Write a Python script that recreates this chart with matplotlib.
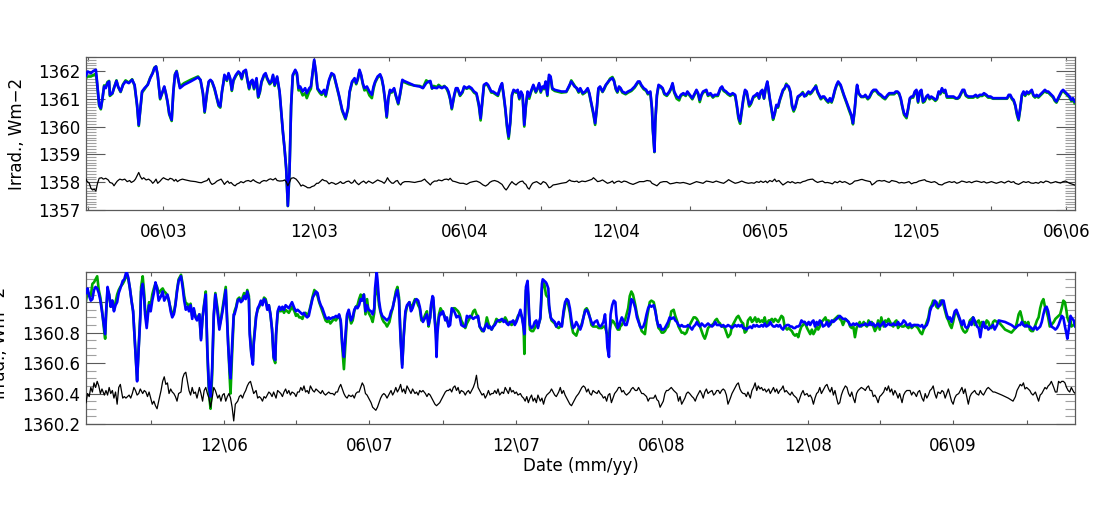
import numpy as np
import matplotlib
matplotlib.use("Agg")
import matplotlib.pyplot as plt
import matplotlib.dates as mdates
from matplotlib.ticker import MultipleLocator, FixedLocator, FormatStrFormatter

# ---------------- data (days counted from panel start date) ----------------
TOP_START = "2003-02-27"
BOT_START = "2006-06-11"
TOP_SPAN = 1200.5
BOT_SPAN = 1238.6

top_days = [
 0,2,6,9,12,13,16,18,20,22,24,26,28,29,32,34,37,39,42,45,48,52,56,59,62,64,66,68,71,75,
 78,81,83,85,87,90,93,95,97,99,101,104,106,108,110,112,114,119,127,136,139,142,144,147,149,151,153,156,159,161,
 163,165,167,168,171,173,175,177,179,182,185,187,189,191,194,196,198,200,202,204,207,209,211,213,216,218,220,223,225,227,
 229,232,233,235,239,241,243,245,247,249,251,254,256,258,260,263,266,268,271,273,275,277,279,281,284,286,289,291,295,298,
 301,303,307,311,315,318,320,323,326,328,330,332,334,336,338,341,344,347,349,351,354,357,359,361,363,365,367,369,371,374,
 376,379,381,384,386,392,
 399,405,409,413,416,418,420,422,426,428,432,435,438,440,442,444,447,449,451,454,457,459,462,465,468,471,474,477,479,481,
 483,486,488,492,494,497,500,503,505,507,509,511,513,515,517,519,522,524,526,528,530,532,534,536,538,540,543,546,548,550,
 552,554,556,558,560,562,564,566,569,577,583,587,589,593,596,598,600,603,606,609,611,613,616,618,620,622,624,627,629,631,
 634,636,639,641,643,645,647,649,651,655,658,662,666,670,672,674,677,680,682,685,687,688,690,691,693,695,698,700,702,705,
 708,710,712,714,717,720,722,725,728,730,733,736,738,741,743,745,747,749,753,755,758,761,763,767,770,772,774,777,779,782,
 785,788,790,792,794,796,798,
 800,802,805,807,810,813,815,817,819,821,823,825,827,828,830,832,834,836,838,840,842,844,846,848,850,853,855,857,859,861,
 864,867,870,872,874,877,879,881,884,886,888,890,892,894,896,899,901,903,905,907,909,911,913,916,918,920,923,926,929,931,
 933,935,936,938,941,944,946,949,951,954,956,959,962,965,967,970,973,975,978,981,983,985,987,989,991,993,996,998,1000,1002,
 1004,1006,1008,1010,1012,1014,1016,1018,1020,1022,1024,1026,1029,1031,1033,1035,1037,1039,1041,1043,
 1045,1047,1050,1053,1056,1058,1060,1062,1064,1066,1068,1071,1074,1077,1080,1082,1085,1088,1090,1093,
 1095,1098,1101,1105,1109,1113,1118,1120,1122,1124,1126,1128,1130,1132,1134,1136,1138,1140,1142,1144,
 1146,1148,1150,1152,1154,1156,1158,1160,1162,1164,1166,1168,1170,1172,1174,1176,1178,1180,1182,1184,
 1186,1188,1190,1192,1194,1196,1198,1200]

top_blue = [
 1361.83,1361.98,1361.92,1362.00,1362.04,1361.74,1360.78,1360.66,1361.02,1361.44,
 1361.38,1361.56,1361.62,1361.14,1361.20,1361.38,1361.64,1361.44,1361.26,1361.50,
 1361.62,1361.56,1361.68,1361.50,1360.78,1360.06,1360.66,1361.26,1361.38,1361.50,
 1361.74,1361.92,1362.10,1362.16,1361.86,1361.02,1361.26,1361.44,1361.20,1360.90,
 1360.48,1360.24,1361.26,1361.86,1361.98,1361.68,1361.38,1361.50,1361.62,1361.77,
 1361.68,1361.20,1360.54,1361.26,1361.62,1361.68,1361.62,1361.38,1361.02,1360.78,
 1360.72,1361.26,1361.62,1361.86,1361.68,1361.92,1361.74,1361.32,1361.68,1361.86,
 1361.98,1361.92,1361.74,1361.98,1362.04,1361.68,1361.38,1361.62,1361.68,1361.38,
 1361.74,1361.08,1361.26,1361.62,1361.86,1361.92,1361.74,1361.56,1361.62,1361.86,
 1361.50,1361.80,1361.62,1361.26,1359.82,1359.22,1358.50,1357.15,1358.38,1360.78,
 1361.86,1362.04,1361.92,1361.38,1361.44,1361.26,1361.38,1361.20,1361.38,1361.44,
 1361.92,1362.40,1361.98,1361.38,1361.26,1361.20,1361.32,1361.14,1361.68,1361.92,
 1361.86,1361.62,1361.14,1360.60,1360.30,1360.66,1361.26,1361.62,1361.74,1361.56,
 1361.74,1362.04,1361.86,1361.56,1361.38,1361.44,1361.26,1361.14,1361.44,1361.62,
 1361.80,1361.88,1361.74,1361.44,1360.96,1360.36,1361.02,1361.32,1361.26,1361.38,
 1361.14,1360.84,1361.14,1361.68,1361.64,1361.56,
 1361.47,1361.44,1361.38,1361.56,1361.62,1361.64,1361.38,1361.40,1361.38,1361.44,
 1361.38,1361.44,1361.38,1361.26,1361.02,1360.66,1361.14,1361.38,1361.38,1361.14,
 1361.26,1361.44,1361.38,1361.44,1361.38,1361.26,1361.20,1360.78,1360.30,1360.90,
 1361.50,1361.56,1361.50,1361.26,1361.26,1361.20,1361.14,1361.44,1361.56,1361.14,
 1360.66,1360.06,1359.64,1360.18,1361.14,1361.32,1361.26,1361.32,1361.02,1361.26,
 1361.14,1360.06,1360.78,1361.26,1361.08,1361.26,1361.50,1361.26,1361.38,1361.56,
 1361.26,1361.44,1361.38,1361.62,1361.14,1361.86,1361.80,1361.38,1361.32,1361.26,
 1361.26,1361.50,1361.62,1361.44,1361.38,1361.26,1361.38,1361.20,1361.26,1361.38,
 1361.20,1360.90,1360.48,1360.12,1360.66,1361.38,1361.44,1361.26,1361.38,1361.50,
 1361.62,1361.68,1361.74,1361.62,1361.38,1361.26,1361.44,1361.38,1361.26,1361.20,
 1361.26,1361.32,1361.44,1361.62,1361.62,1361.50,1361.38,1361.32,1361.20,1361.26,
 1360.66,1359.94,1359.10,1360.18,1361.14,1361.50,1361.44,1361.38,1361.20,1361.14,
 1361.26,1361.38,1361.56,1361.26,1361.08,1361.02,1361.14,1361.20,1361.14,1361.26,
 1361.14,1361.02,1361.14,1361.32,1361.20,1360.96,1361.14,1361.26,1361.32,1361.14,
 1361.20,1361.08,1361.14,1361.14,1361.38,1361.44,1361.32,1361.26,1361.20,1361.14,
 1361.20,1361.14,1360.78,1360.36,1360.18,1360.60,1361.02,
 1361.32,1361.26,1360.78,1360.84,1361.08,1361.14,1361.20,1361.02,1361.26,1361.32,
 1361.02,1361.38,1361.62,1361.44,1361.02,1360.66,1360.30,1360.48,1360.78,1360.72,
 1360.96,1361.14,1361.32,1361.38,1361.50,1361.44,1361.26,1360.78,1360.60,1360.72,
 1361.08,1361.14,1361.20,1361.08,1361.14,1361.26,1361.20,1361.26,1361.38,1361.44,
 1361.26,1361.14,1361.02,1361.08,1361.08,1360.96,1360.90,1361.02,1360.90,1361.08,
 1361.32,1361.50,1361.62,1361.50,1361.32,1361.14,1360.90,1360.66,1360.42,1360.12,
 1360.60,1361.26,1361.50,1361.20,1361.08,1361.08,1361.14,1361.02,1361.08,1361.26,
 1361.32,1361.32,1361.20,1361.14,1361.08,1361.02,1361.14,1361.20,1361.20,1361.20,
 1361.26,1361.26,1361.20,1361.02,1360.72,1360.48,1360.36,1360.66,1361.02,1361.08,
 1361.08,1361.26,1361.32,1360.90,1361.26,1361.32,1360.90,1360.96,1361.08,1361.14,
 1361.02,1361.08,1361.02,1360.96,1361.02,1361.26,1361.20,1361.38,1361.26,1361.32,
 1361.08,1361.08,1361.08,1361.08,1361.02,1361.02,1361.08,1361.20,1361.32,1361.32,
 1361.14,1361.08,1361.08,1361.08,1361.14,1361.08,1361.14,1361.14,1361.20,1361.14,
 1361.08,1361.08,1361.02,1361.02,1361.02,1361.02,1361.02,1361.14,1361.14,1361.02,
 1360.96,1360.78,1360.48,1360.27,1360.66,1361.14,1361.26,1361.14,1361.26,1361.20,
 1361.26,1361.32,1361.14,1361.08,1361.14,1361.08,1361.14,1361.20,1361.26,1361.32,
 1361.26,1361.26,1361.20,1361.14,1361.08,1360.96,1360.90,1361.02,1361.14,1361.26,
 1361.32,1361.26,1361.20,1361.14,1361.08,1360.96,1361.02,1360.90]

top_green = [
 1361.74,1361.80,1361.80,1361.85,1361.90,1361.68,1360.74,1360.62,1361.00,1361.48,
 1361.42,1361.60,1361.64,1361.10,1361.18,1361.40,1361.66,1361.42,1361.24,1361.52,
 1361.66,1361.58,1361.70,1361.46,1360.74,1360.02,1360.62,1361.22,1361.34,1361.52,
 1361.76,1361.94,1362.12,1362.16,1361.84,1360.98,1361.24,1361.42,1361.16,1360.86,
 1360.44,1360.20,1361.22,1361.88,1362.00,1361.70,1361.44,1361.56,1361.68,1361.80,
 1361.66,1361.16,1360.50,1361.22,1361.60,1361.66,1361.60,1361.34,1360.98,1360.74,
 1360.68,1361.22,1361.60,1361.82,1361.64,1361.88,1361.70,1361.28,1361.64,1361.82,
 1361.94,1361.88,1361.70,1361.94,1362.00,1361.64,1361.34,1361.58,1361.64,1361.34,
 1361.70,1361.04,1361.22,1361.58,1361.82,1361.88,1361.70,1361.52,1361.58,1361.82,
 1361.46,1361.76,1361.58,1361.22,1359.80,1359.20,1358.48,1357.14,1358.36,1360.74,
 1361.82,1362.00,1361.88,1361.30,1361.34,1361.12,1361.20,1361.02,1361.26,1361.36,
 1361.90,1362.36,1361.94,1361.34,1361.20,1361.14,1361.26,1361.08,1361.64,1361.88,
 1361.82,1361.58,1361.10,1360.56,1360.26,1360.62,1361.22,1361.58,1361.70,1361.52,
 1361.70,1362.00,1361.82,1361.52,1361.30,1361.34,1361.12,1361.02,1361.36,1361.58,
 1361.76,1361.84,1361.70,1361.40,1360.92,1360.32,1360.98,1361.28,1361.22,1361.34,
 1361.10,1360.80,1361.10,1361.64,1361.60,1361.52,
 1361.47,1361.46,1361.40,1361.66,1361.60,1361.60,1361.36,1361.46,1361.42,1361.50,
 1361.40,1361.46,1361.34,1361.20,1360.98,1360.62,1361.10,1361.34,1361.36,1361.10,
 1361.22,1361.42,1361.36,1361.40,1361.34,1361.22,1361.16,1360.72,1360.22,1360.86,
 1361.46,1361.52,1361.46,1361.22,1361.22,1361.16,1361.10,1361.40,1361.52,1361.10,
 1360.60,1359.98,1359.56,1360.12,1361.10,1361.28,1361.22,1361.28,1360.98,1361.22,
 1361.10,1360.00,1360.74,1361.22,1361.00,1361.22,1361.46,1361.22,1361.34,1361.52,
 1361.22,1361.40,1361.34,1361.58,1361.10,1361.76,1361.74,1361.34,1361.28,1361.22,
 1361.24,1361.46,1361.66,1361.48,1361.34,1361.22,1361.34,1361.16,1361.22,1361.34,
 1361.16,1360.86,1360.42,1360.06,1360.62,1361.34,1361.42,1361.24,1361.34,1361.48,
 1361.60,1361.72,1361.78,1361.66,1361.34,1361.22,1361.40,1361.34,1361.22,1361.16,
 1361.22,1361.28,1361.40,1361.58,1361.60,1361.46,1361.34,1361.28,1361.16,1361.22,
 1360.62,1359.90,1359.08,1360.14,1361.10,1361.46,1361.40,1361.34,1361.16,1361.10,
 1361.22,1361.34,1361.52,1361.22,1361.00,1360.94,1361.10,1361.16,1361.10,1361.22,
 1361.10,1360.98,1361.10,1361.28,1361.16,1360.88,1361.10,1361.22,1361.28,1361.10,
 1361.16,1361.04,1361.10,1361.10,1361.34,1361.40,1361.28,1361.22,1361.16,1361.10,
 1361.16,1361.10,1360.72,1360.28,1360.10,1360.54,1360.98,
 1361.28,1361.22,1360.72,1360.80,1361.04,1361.10,1361.18,1361.00,1361.22,1361.28,
 1361.00,1361.34,1361.58,1361.40,1360.98,1360.60,1360.24,1360.44,1360.74,1360.68,
 1360.92,1361.10,1361.28,1361.36,1361.54,1361.40,1361.22,1360.72,1360.54,1360.68,
 1361.04,1361.12,1361.24,1361.12,1361.10,1361.22,1361.16,1361.22,1361.36,1361.48,
 1361.22,1361.10,1360.98,1361.04,1361.04,1360.92,1360.86,1360.98,1360.86,1361.04,
 1361.28,1361.46,1361.58,1361.46,1361.28,1361.10,1360.86,1360.60,1360.36,1360.08,
 1360.56,1361.22,1361.46,1361.18,1361.06,1361.06,1361.10,1360.98,1361.04,1361.22,
 1361.28,1361.28,1361.16,1361.10,1361.04,1360.98,1361.10,1361.16,1361.16,1361.16,
 1361.22,1361.22,1361.16,1360.98,1360.68,1360.42,1360.30,1360.62,1360.98,1361.04,
 1361.04,1361.22,1361.28,1360.86,1361.22,1361.28,1360.86,1360.90,1361.04,1361.10,
 1360.98,1361.04,1360.98,1360.92,1360.98,1361.22,1361.16,1361.34,1361.22,1361.28,
 1361.04,1361.04,1361.04,1361.04,1361.00,1361.00,1361.04,1361.16,1361.28,1361.28,
 1361.10,1361.04,1361.04,1361.04,1361.10,1361.04,1361.10,1361.10,1361.16,1361.10,
 1361.04,1361.04,1361.00,1361.00,1361.00,1361.00,1361.00,1361.10,1361.10,1360.98,
 1360.92,1360.74,1360.42,1360.22,1360.62,1361.10,1361.22,1361.10,1361.22,1361.16,
 1361.22,1361.28,1361.10,1361.04,1361.10,1361.04,1361.10,1361.16,1361.22,1361.28,
 1361.22,1361.22,1361.16,1361.10,1361.04,1360.92,1360.86,1360.98,1361.10,1361.22,
 1361.28,1361.22,1361.16,1361.10,1361.04,1360.92,1360.98,1360.84]

top_black_days = [
 0,1,4,6,8,10,12,14,16,19,21,24,27,29,32,34,36,38,41,44,47,50,53,55,58,60,62,64,66,68,
 70,73,76,79,81,83,85,87,90,92,94,97,100,102,105,107,109,111,114,117,121,127,133,137,140,143,147,149,151,153,
 156,159,162,164,166,168,170,172,174,176,179,181,183,186,188,191,194,197,200,203,205,208,211,213,216,219,222,224,227,230,
 232,235,239,241,243,245,247,249,252,255,257,259,261,263,265,267,269,272,274,277,280,282,285,287,289,292,295,298,301,303,
 306,309,311,313,316,319,322,324,326,328,331,334,337,340,343,346,348,351,354,357,359,362,364,366,368,371,373,376,378,380,
 382,384,387,392,
 399,403,407,411,413,416,418,420,423,426,428,432,435,438,440,442,445,448,451,454,458,462,466,470,474,478,482,485,488,490,
 493,496,500,503,505,508,510,512,514,517,519,522,524,527,530,532,534,536,538,540,542,544,547,550,552,555,558,560,562,564,
 567,571,577,583,587,589,593,596,598,602,606,610,614,616,619,621,624,627,630,633,636,639,641,644,647,650,653,656,660,664,
 668,672,677,681,685,687,691,693,697,701,705,709,713,717,721,725,729,733,737,741,745,749,753,757,761,765,770,774,778,780,
 784,788,792,796,
 800,804,808,811,814,817,819,822,825,827,830,833,836,838,841,844,846,849,852,855,857,861,864,867,870,873,876,879,882,885,
 888,891,894,897,900,903,906,909,912,915,918,921,925,927,930,933,937,940,942,946,949,952,954,957,960,963,966,969,972,975,
 978,981,984,987,990,993,996,999,1002,1005,1008,1011,1014,1018,1020,1023,1026,1030,1033,1035,
 1039,1042,1045,1048,1051,1054,1057,1060,1063,1066,1069,1072,1075,1078,1081,1084,1087,1090,1093,1096,
 1099,1103,1105,1108,1111,1115,1118,1120,1123,1126,1128,1132,1135,1138,1141,1144,1147,1150,1153,1156,
 1159,1162,1165,1168,1171,1174,1177,1180,1183,1186,1189,1192,1194,1197,1200]

top_black = [
 1358.11,1358.04,1357.96,1357.78,1357.72,1357.75,1357.68,1357.96,1358.14,1358.16,
 1358.11,1358.14,1358.08,1357.99,1357.96,1357.87,1357.96,1358.04,1358.11,1358.08,
 1358.11,1358.02,1358.06,1357.99,1358.04,1358.11,1358.23,1358.35,1358.20,1358.11,
 1358.16,1358.08,1358.11,1358.04,1357.96,1358.02,1358.11,1357.96,1358.04,1358.11,
 1358.16,1358.11,1358.08,1358.14,1358.11,1358.04,1358.10,1358.02,1358.08,1358.11,
 1358.08,1358.04,1358.02,1357.99,1357.98,1358.02,1358.06,1358.14,1357.99,1357.92,
 1357.96,1358.04,1358.08,1358.11,1358.02,1357.92,1357.99,1358.04,1357.96,1357.99,
 1357.90,1357.87,1357.93,1357.97,1358.02,1357.98,1358.04,1358.06,1358.02,1358.09,
 1358.04,1357.99,1357.96,1358.02,1358.06,1358.04,1358.10,1358.12,1358.08,1358.14,
 1358.06,1358.04,1358.05,1358.08,1358.02,1357.87,1357.99,1358.14,1358.16,1358.11,
 1358.04,1357.96,1357.86,1357.90,1357.87,1357.84,1357.80,1357.80,1357.84,1357.87,
 1357.96,1357.96,1358.04,1358.10,1358.06,1358.04,1357.94,1357.99,1357.96,1357.92,
 1357.96,1358.02,1357.96,1357.96,1358.02,1358.04,1357.96,1357.99,1358.08,1357.99,
 1357.91,1357.99,1358.04,1357.96,1358.04,1357.99,1357.96,1358.02,1358.08,1358.04,
 1358.02,1357.96,1358.04,1358.16,1358.06,1357.97,1357.96,1358.04,1358.06,1357.96,
 1357.90,1357.98,1358.02,1358.02,
 1357.99,1358.02,1358.04,1358.11,1358.04,1357.96,1357.90,1357.98,1358.04,1358.04,
 1358.08,1358.05,1358.10,1358.11,1358.08,1358.14,1358.04,1358.02,1357.99,1357.96,
 1357.96,1357.92,1357.99,1358.02,1358.04,1357.99,1357.90,1357.86,1357.92,1357.99,
 1358.04,1358.06,1358.02,1357.96,1357.92,1357.78,1357.72,1357.80,1357.90,1358.02,
 1357.96,1357.90,1357.96,1358.02,1358.04,1357.96,1357.92,1357.80,1357.75,1357.87,
 1357.96,1357.99,1358.02,1357.96,1357.92,1358.02,1357.98,1357.90,1357.80,1357.82,
 1357.90,1357.92,1357.96,1357.99,1358.08,1358.04,1358.02,1358.04,1357.99,1358.04,
 1358.02,1358.06,1358.10,1358.16,1358.08,1358.02,1358.04,1358.08,1358.02,1357.96,
 1357.99,1358.04,1357.96,1358.02,1358.04,1357.99,1358.04,1358.02,1357.96,1357.92,
 1357.97,1358.02,1358.02,1358.06,1358.04,1357.96,1357.90,1357.87,1357.99,1358.02,
 1358.02,1357.94,1357.96,1357.99,1357.97,1357.99,1357.96,1357.92,1357.97,1358.02,
 1357.99,1357.96,1358.04,1358.02,1357.99,1358.04,1357.99,1357.96,1358.04,1358.09,
 1358.02,1357.96,1357.99,1358.04,
 1357.99,1357.96,1357.98,1357.96,1358.02,1357.99,1358.04,1357.99,1358.04,1357.98,
 1358.06,1358.02,1358.11,1358.02,1358.06,1357.96,1357.90,1357.96,1358.02,1357.98,
 1358.02,1357.96,1357.99,1357.97,1358.02,1358.04,1358.08,1358.10,1358.11,1358.04,
 1357.99,1358.02,1358.04,1357.98,1357.99,1357.97,1357.94,1358.02,1357.98,1358.04,
 1357.99,1358.02,1357.96,1357.92,1357.96,1358.04,1358.06,1358.09,1358.10,1358.06,
 1358.04,1358.02,1357.90,1357.96,1358.04,1358.06,1358.04,1358.06,1358.02,1357.99,
 1358.06,1358.04,1358.02,1357.97,1357.99,1357.97,1357.99,1358.02,1357.94,1357.98,
 1357.99,1358.04,1358.06,1358.09,1358.04,1358.02,1357.99,1358.02,1357.97,1357.92,
 1357.90,1357.96,1357.99,1358.02,1357.99,1358.02,1357.96,1357.99,1358.04,1358.02,
 1357.99,1358.02,1357.98,1358.02,1358.04,1358.02,1357.99,1358.02,1357.97,1357.99,
 1358.02,1357.98,1357.96,1357.99,1358.02,1357.97,1358.02,1358.04,1357.99,1358.02,
 1357.96,1357.92,1357.97,1358.02,1357.99,1358.02,1357.97,1357.96,1357.99,1357.96,
 1358.02,1357.98,1358.04,1358.02,1357.97,1357.99,1358.02,1357.99,1357.97,1358.02,
 1358.04,1357.99,1357.96,1357.93,1357.90]

bot_days = [
 0,2,4,6,8,10,12,14,16,18,20,23,24,25,27,29,31,33,35,37,39,41,43,46,48,50,51,53,55,57,
 59,61,63,64,66,68,69,71,73,74,76,78,79,81,83,85,87,89,91,94,96,98,100,102,104,106,108,110,112,114,
 116,119,121,123,125,127,129,131,133,135,137,139,142,144,146,148,150,152,154,156,158,160,162,165,167,169,171,173,175,176,
 178,180,181,183,185,186,188,190,192,194,196,198,200,202,204,205,207,209,210,213,215,217,219,221,223,225,227,229,231,233,
 235,237,238,240,242,244,246,248,250,252,254,256,258,261,263,265,267,269,271,273,275,277,279,281,284,286,288,290,292,294,
 296,298,300,302,304,306,309,311,313,315,317,319,321,323,325,327,329,332,334,336,338,340,342,344,346,348,350,352,354,357,
 359,361,362,364,365,367,369,371,373,375,377,380,382,384,386,388,390,392,394,396,398,400,402,405,407,409,
 412,414,416,418,420,422,425,427,429,431,432,434,435,436,438,439,440,442,444,445,447,450,452,454,456,458,460,462,464,466,
 468,470,473,475,477,479,481,483,485,487,489,491,493,496,498,500,502,504,506,508,510,512,514,516,518,521,523,525,527,529,
 531,533,535,537,539,541,544,546,548,549,550,551,553,554,555,556,558,560,562,564,566,569,570,571,572,574,576,577,579,580,
 582,583,585,587,589,592,594,596,598,600,602,604,606,608,610,612,614,617,619,621,623,625,627,629,631,633,635,637,640,642,
 644,646,648,650,652,653,655,656,657,659,661,663,664,666,668,669,671,673,675,677,679,681,683,685,688,690,692,694,696,698,
 700,702,704,706,708,711,713,715,717,719,721,723,725,727,729,731,733,736,738,740,742,744,746,748,750,752,754,756,759,761,
 763,765,767,769,771,773,775,777,779,781,784,786,788,790,792,794,796,798,800,802,804,807,809,811,813,815,817,819,821,823,
 825,827,829,832,834,836,838,840,842,844,846,848,850,852,855,857,859,861,863,865,867,869,871,873,875,878,880,882,884,886,
 888,890,892,894,896,898,900,903,905,907,909,911,913,915,917,919,921,923,926,928,930,932,934,936,938,940,942,944,946,948,
 951,953,955,957,959,961,963,965,967,969,971,974,976,978,980,982,984,986,988,990,992,994,996,999,1001,1003,1005,1007,1009,1011,
 1013,1015,1017,1019,1022,1024,1026,1028,1030,1032,1034,1036,1038,1040,1042,1045,1047,1049,1051,1053,
 1055,1057,1059,1061,1063,1065,1067,1070,1072,1074,1076,1078,1080,1082,1084,1086,1088,1090,1093,1095,
 1097,1099,1101,1103,1105,1107,1109,1111,1113,1116,1118,1120,1122,1124,1126,1128,1130,1132,1134,1136,
 1138,1141,1143,1151,1159,1164,1166,1168,1170,1172,1174,1176,1178,1180,1182,1184,1186,1189,1191,1193,
 1195,1197,1199,1201,1203,1205,1207,1209,1212,1214,1216,1218,1220,1222,1224,1226,1228,1229,1231,1233,
 1234,1237,1239]

bot_blue = [
 1361.06,1361.09,1361.04,1361.01,1361.02,1361.08,1361.10,1361.09,1361.06,1361.01,
 1360.94,1360.83,1360.79,1360.92,1361.10,1361.05,1360.97,1361.01,1360.94,1360.98,
 1361.00,1361.06,1361.09,1361.14,1361.15,1361.19,1361.20,1361.16,1361.09,1361.01,
 1360.94,1360.75,1360.57,1360.48,1360.70,1360.90,1361.07,1361.12,1361.01,1360.92,
 1360.83,1360.94,1360.98,1360.94,1361.01,1361.06,1361.13,1361.09,1361.01,1361.04,
 1361.07,1361.01,1361.03,1361.05,1361.01,1360.94,1360.90,1360.92,1360.98,1361.07,
 1361.14,1361.17,1361.10,1361.01,1360.95,1360.97,1360.94,1360.98,1360.89,1360.96,
 1360.90,1360.88,1360.92,1360.75,1360.90,1360.98,1361.05,1360.68,1360.44,1360.38,
 1360.57,1360.92,1361.05,1360.92,1360.82,1360.88,1360.94,1361.01,1361.08,1360.96,
 1360.72,1360.55,1360.50,1360.72,1360.92,1360.92,1360.96,1361.01,1361.02,1361.00,
 1361.01,1361.04,1361.02,1361.07,1361.02,1360.79,1360.66,1360.59,1360.72,1360.90,
 1360.96,1360.98,1361.01,1360.98,1361.02,1361.01,1360.95,1360.98,1360.92,1360.82,
 1360.64,1360.62,1360.79,1360.94,1360.97,1360.95,1360.97,1360.95,1360.98,1360.97,
 1360.96,1360.98,1361.00,1360.96,1360.94,1360.95,1360.94,1360.93,1360.92,1360.93,
 1360.91,1360.90,1360.91,1360.96,1361.03,1361.05,1361.07,1361.06,1361.01,1360.98,
 1360.96,1360.93,1360.90,1360.89,1360.90,1360.89,1360.90,1360.90,1360.91,1360.90,
 1360.92,1360.88,1360.72,1360.64,1360.79,1360.92,1360.95,1360.88,1360.90,1360.95,
 1360.97,1360.96,1360.98,1361.02,1361.01,1361.05,1360.94,1360.98,1360.95,1360.94,
 1360.92,1360.96,1361.09,1361.20,1361.15,1361.01,1360.94,1360.91,1360.90,1360.89,
 1360.88,1360.90,1360.94,1360.96,1361.01,1361.05,1361.08,1361.01,1360.75,1360.57,
 1360.79,1360.94,1360.98,1361.00,1360.94,1360.96,
 1361.01,1361.02,1361.01,1360.97,1360.90,1360.87,1360.90,1360.92,1360.85,1360.90,
 1360.98,1361.04,1361.03,1360.94,1360.79,1360.64,1360.79,1360.90,1360.93,1360.92,
 1360.94,1360.88,1360.90,1360.84,1360.85,1360.96,1360.95,1360.93,1360.90,1360.91,
 1360.90,1360.85,1360.84,1360.84,1360.91,1360.90,1360.91,1360.90,1360.89,1360.90,
 1360.90,1360.91,1360.84,1360.82,1360.81,1360.84,1360.86,1360.83,1360.84,1360.82,
 1360.84,1360.85,1360.87,1360.88,1360.88,1360.89,1360.87,1360.88,1360.86,1360.85,
 1360.87,1360.87,1360.88,1360.85,1360.87,1360.90,1360.95,1360.90,1360.83,1360.79,
 1360.98,1361.10,1361.14,1361.05,1360.92,1360.85,1360.83,1360.84,1360.87,1360.88,
 1360.83,1360.90,1361.01,1361.12,1361.15,1361.14,1361.13,1361.12,1361.09,1360.98,
 1360.90,1360.89,1360.88,1360.87,1360.84,1360.87,1360.85,1360.84,1360.94,1361.00,
 1361.02,1361.01,1360.96,1360.88,1360.83,1360.84,1360.87,1360.84,1360.82,1360.85,
 1360.90,1360.94,1360.95,1360.93,1360.90,1360.87,1360.85,1360.87,1360.88,1360.85,
 1360.84,1360.85,1360.87,1360.92,1360.79,1360.70,1360.64,1360.81,1360.92,1360.98,
 1361.01,1361.00,1360.92,1360.83,1360.85,1360.87,1360.90,1360.88,1360.85,1360.85,
 1360.89,1360.94,1361.02,1361.01,1360.96,1360.90,1360.87,1360.84,1360.83,1360.84,
 1360.87,1360.92,1360.96,1360.98,1360.97,1360.98,1360.94,1360.88,1360.84,1360.85,
 1360.82,1360.82,1360.83,1360.85,1360.87,1360.90,1360.89,1360.90,1360.88,1360.87,
 1360.85,1360.84,1360.85,1360.84,1360.84,1360.84,1360.85,1360.84,1360.82,1360.84,
 1360.85,1360.87,1360.85,1360.84,1360.86,1360.85,1360.84,1360.85,1360.86,1360.85,
 1360.84,1360.85,1360.87,1360.85,1360.85,1360.85,1360.84,1360.85,1360.84,1360.84,
 1360.85,1360.84,1360.83,1360.84,1360.85,1360.84,1360.85,1360.84,1360.85,1360.83,
 1360.83,1360.82,1360.83,1360.84,1360.83,1360.85,1360.84,1360.85,1360.84,1360.84,
 1360.85,1360.84,1360.86,1360.84,1360.85,1360.87,1360.85,1360.84,1360.84,1360.85,
 1360.84,1360.85,1360.83,1360.82,1360.84,1360.85,1360.85,1360.84,1360.84,1360.83,
 1360.83,1360.84,1360.84,1360.85,1360.88,1360.87,1360.87,1360.85,1360.87,1360.85,
 1360.87,1360.88,1360.84,1360.87,1360.85,1360.88,1360.87,1360.84,1360.85,1360.87,
 1360.84,1360.86,1360.88,1360.87,1360.88,1360.89,1360.90,1360.91,1360.90,1360.89,
 1360.89,1360.88,1360.87,1360.85,1360.85,1360.86,1360.85,1360.86,1360.85,1360.84,
 1360.85,1360.85,1360.86,1360.85,1360.85,1360.87,1360.85,1360.86,1360.84,1360.85,
 1360.86,1360.84,1360.85,1360.87,1360.84,1360.85,1360.86,1360.85,1360.85,1360.86,
 1360.85,1360.85,1360.87,1360.85,1360.86,1360.88,1360.87,1360.85,1360.85,1360.86,
 1360.84,1360.85,1360.85,1360.85,1360.85,1360.84,1360.85,1360.83,1360.84,1360.85,
 1360.88,1360.94,1360.97,1360.98,1361.01,1361.00,1360.97,1360.98,1361.01,1361.01,
 1360.96,1360.92,1360.89,1360.90,1360.87,1360.90,1360.94,1360.95,1360.91,1360.88,
 1360.85,1360.88,1360.84,1360.83,1360.84,1360.87,1360.85,1360.90,1360.88,1360.84,
 1360.83,1360.77,1360.84,1360.87,1360.83,1360.84,1360.82,1360.83,1360.84,1360.85,
 1360.82,1360.85,1360.88,1360.87,1360.85,1360.83,1360.84,1360.85,1360.85,1360.87,
 1360.85,1360.84,1360.85,1360.84,1360.84,1360.83,1360.82,1360.84,1360.82,1360.83,
 1360.84,1360.87,1360.92,1360.96,1360.97,1360.94,1360.88,1360.84,1360.83,1360.82,
 1360.83,1360.85,1360.88,1360.91,1360.90,1360.84,1360.79,1360.76,1360.83,1360.91,
 1360.90,1360.88,1360.84]

bot_green = [
 1361.01,1361.07,1361.05,1361.04,1361.12,1361.13,1361.15,1361.17,1361.08,1361.03,
 1360.95,1360.80,1360.76,1360.90,1361.08,1361.05,1360.97,1361.01,1360.95,1361.00,
 1361.05,1361.08,1361.10,1361.12,1361.14,1361.17,1361.18,1361.15,1361.09,1361.01,
 1360.94,1360.76,1360.58,1360.49,1360.70,1360.92,1361.10,1361.17,1361.05,1360.95,
 1360.86,1360.96,1361.00,1360.98,1361.05,1361.09,1361.12,1361.10,1361.06,1361.08,
 1361.09,1361.07,1361.06,1361.04,1361.00,1360.96,1360.92,1360.93,1360.99,1361.08,
 1361.15,1361.18,1361.12,1361.04,1360.99,1360.99,1360.96,1360.99,1360.91,1360.95,
 1360.91,1360.89,1360.92,1360.76,1360.90,1360.99,1361.07,1360.66,1360.40,1360.30,
 1360.52,1360.90,1361.06,1360.95,1360.84,1360.89,1360.96,1361.03,1361.10,1360.98,
 1360.73,1360.50,1360.40,1360.66,1360.90,1360.94,1360.97,1361.02,1361.03,1361.01,
 1361.03,1361.06,1361.03,1361.08,1361.04,1360.82,1360.67,1360.61,1360.74,1360.91,
 1360.95,1360.97,1361.00,1360.99,1361.03,1361.02,1360.97,1360.98,1360.92,1360.82,
 1360.63,1360.60,1360.78,1360.92,1360.96,1360.94,1360.95,1360.93,1360.95,1360.94,
 1360.93,1360.95,1360.97,1360.94,1360.91,1360.92,1360.90,1360.90,1360.89,1360.92,
 1360.93,1360.91,1360.93,1360.97,1361.04,1361.08,1361.06,1361.04,1361.00,1360.97,
 1360.94,1360.91,1360.88,1360.87,1360.88,1360.86,1360.88,1360.89,1360.88,1360.90,
 1360.91,1360.87,1360.70,1360.56,1360.74,1360.91,1360.93,1360.86,1360.88,1360.94,
 1360.97,1360.98,1361.02,1361.05,1361.03,1361.05,1360.92,1361.02,1360.93,1360.90,
 1360.87,1360.93,1361.04,1361.10,1361.09,1360.98,1360.93,1360.89,1360.87,1360.86,
 1360.84,1360.87,1360.92,1360.96,1361.01,1361.07,1361.10,1361.03,1360.77,1360.59,
 1360.78,1360.92,1360.97,1361.00,1360.96,1360.98,
 1361.02,1361.01,1360.98,1360.96,1360.88,1360.88,1360.92,1360.94,1360.84,1360.90,
 1360.96,1361.02,1361.01,1360.94,1360.82,1360.72,1360.82,1360.92,1360.96,1360.95,
 1360.93,1360.90,1360.88,1360.85,1360.88,1360.94,1360.96,1360.96,1360.95,1360.94,
 1360.92,1360.88,1360.85,1360.83,1360.86,1360.88,1360.90,1360.91,1360.94,1360.95,
 1360.92,1360.90,1360.84,1360.81,1360.81,1360.84,1360.90,1360.86,1360.83,1360.82,
 1360.84,1360.86,1360.89,1360.88,1360.87,1360.88,1360.88,1360.90,1360.88,1360.86,
 1360.86,1360.85,1360.86,1360.87,1360.88,1360.91,1360.93,1360.90,1360.85,1360.66,
 1360.90,1361.08,1361.09,1361.01,1360.90,1360.82,1360.81,1360.81,1360.83,1360.85,
 1360.84,1360.89,1360.98,1361.08,1361.13,1361.12,1361.05,1361.04,1361.03,1360.96,
 1360.90,1360.88,1360.87,1360.86,1360.84,1360.83,1360.84,1360.85,1360.92,1360.98,
 1361.02,1360.98,1360.93,1360.85,1360.80,1360.79,1360.78,1360.83,1360.83,1360.86,
 1360.90,1360.95,1360.96,1360.94,1360.90,1360.85,1360.84,1360.84,1360.84,1360.83,
 1360.83,1360.83,1360.84,1360.84,1360.80,1360.79,1360.77,1360.82,1360.85,1360.88,
 1360.87,1360.85,1360.84,1360.82,1360.82,1360.84,1360.85,1360.87,1360.88,1360.92,
 1360.96,1361.04,1361.07,1361.05,1360.98,1360.92,1360.88,1360.84,1360.81,1360.80,
 1360.79,1360.88,1360.94,1361.00,1361.01,1361.00,1360.95,1360.88,1360.83,1360.82,
 1360.80,1360.80,1360.81,1360.83,1360.84,1360.88,1360.94,1360.95,1360.91,1360.88,
 1360.84,1360.82,1360.80,1360.80,1360.79,1360.80,1360.83,1360.85,1360.88,1360.90,
 1360.90,1360.89,1360.87,1360.84,1360.81,1360.78,1360.76,1360.79,1360.83,1360.84,
 1360.85,1360.86,1360.88,1360.89,1360.87,1360.86,1360.84,1360.84,1360.83,1360.80,
 1360.77,1360.79,1360.84,1360.86,1360.88,1360.90,1360.91,1360.89,1360.87,1360.86,
 1360.80,1360.81,1360.88,1360.90,1360.87,1360.88,1360.90,1360.87,1360.89,1360.87,
 1360.88,1360.87,1360.90,1360.85,1360.88,1360.88,1360.89,1360.87,1360.89,1360.88,
 1360.87,1360.89,1360.91,1360.90,1360.84,1360.82,1360.83,1360.82,1360.81,1360.79,
 1360.78,1360.79,1360.77,1360.81,1360.84,1360.85,1360.87,1360.83,1360.81,1360.79,
 1360.82,1360.79,1360.81,1360.84,1360.82,1360.84,1360.87,1360.88,1360.90,1360.87,
 1360.88,1360.85,1360.87,1360.88,1360.89,1360.90,1360.91,1360.89,1360.88,1360.85,
 1360.89,1360.88,1360.87,1360.84,1360.83,1360.84,1360.77,1360.83,1360.85,1360.87,
 1360.84,1360.87,1360.85,1360.84,1360.88,1360.85,1360.87,1360.84,1360.81,1360.83,
 1360.88,1360.82,1360.90,1360.84,1360.88,1360.87,1360.89,1360.87,1360.85,1360.84,
 1360.87,1360.88,1360.83,1360.85,1360.84,1360.84,1360.85,1360.84,1360.83,1360.85,
 1360.83,1360.84,1360.85,1360.84,1360.83,1360.80,1360.79,1360.82,1360.84,1360.87,
 1360.90,1360.96,1360.98,1361.01,1361.00,1360.97,1360.96,1361.01,1361.01,1360.98,
 1360.94,1360.90,1360.88,1360.85,1360.83,1360.87,1360.92,1360.94,1360.90,1360.87,
 1360.83,1360.81,1360.80,1360.81,1360.84,1360.88,1360.89,1360.90,1360.85,1360.87,
 1360.88,1360.84,1360.87,1360.84,1360.85,1360.88,1360.87,1360.84,1360.83,1360.87,
 1360.88,1360.87,1360.87,1360.82,1360.80,1360.83,1360.87,1360.92,1360.94,1360.90,
 1360.85,1360.87,1360.84,1360.87,1360.82,1360.81,1360.81,1360.85,1360.88,1360.90,
 1360.96,1361.00,1361.02,1360.97,1360.94,1360.90,1360.84,1360.85,1360.87,1360.89,
 1360.90,1360.91,1360.92,1360.96,1361.01,1361.00,1360.94,1360.90,1360.87,1360.88,
 1360.84,1360.85,1360.87]

bot_black_days = [
 0,2,4,6,8,10,12,14,16,18,20,23,25,27,29,31,33,35,37,39,41,43,46,48,50,52,54,56,58,60,
 62,64,66,68,71,73,75,77,79,81,83,85,87,89,91,94,96,98,100,102,104,106,108,110,112,114,116,119,121,123,
 125,127,129,131,133,135,137,139,142,144,146,148,150,152,154,156,158,160,162,165,167,169,171,173,175,177,179,181,183,185,
 187,190,192,194,196,198,200,202,204,206,208,210,213,215,217,219,221,223,225,227,229,231,233,235,238,240,242,244,246,248,
 250,252,254,256,258,261,263,265,267,269,271,273,275,277,279,281,284,286,288,290,292,294,296,298,300,302,304,306,309,311,
 313,315,317,319,321,323,325,327,329,332,334,336,338,340,342,344,346,348,350,352,354,357,359,361,363,365,367,369,371,373,
 375,377,380,382,384,386,388,390,392,394,396,398,400,402,405,407,409,
 412,414,416,418,420,422,425,427,429,431,433,435,437,439,441,443,445,447,450,452,454,456,458,460,462,464,466,468,470,473,
 475,477,479,481,483,485,487,489,491,493,496,498,500,502,504,506,508,510,512,514,516,518,521,523,525,527,529,531,533,535,
 537,539,541,544,546,548,550,552,554,556,558,560,562,564,566,569,571,573,575,577,579,581,583,585,587,589,592,594,596,598,
 600,602,604,606,608,610,612,614,617,619,621,623,625,627,629,631,633,635,637,640,642,644,646,648,650,652,654,656,658,660,
 662,665,667,669,671,673,675,677,679,681,683,685,688,690,692,694,696,698,700,702,704,706,708,711,713,715,717,719,721,723,
 725,727,729,731,733,736,738,740,742,744,746,748,750,752,754,756,759,761,763,765,767,769,771,773,775,777,779,781,784,786,
 788,790,792,794,796,798,800,802,804,807,809,811,813,815,817,819,821,823,
 825,827,829,832,834,836,838,840,842,844,846,848,850,852,855,857,859,861,863,865,867,869,871,873,875,877,880,882,884,886,
 888,890,892,894,896,898,900,903,905,907,909,911,913,915,917,919,921,923,926,928,930,932,934,936,938,940,942,944,946,948,
 951,953,955,957,959,961,963,965,967,969,971,974,976,978,980,982,984,986,988,990,992,994,996,999,1001,1003,1005,1007,1009,1011,
 1013,1015,1017,1019,1022,1024,1026,1028,1030,1032,1034,1036,1038,1040,1042,1044,1047,1049,1051,1053,
 1055,1057,1059,1061,1063,1065,1067,1070,1072,1074,1076,1078,1080,1082,1084,1086,1088,1090,1093,1095,
 1097,1099,1101,1103,1105,1107,1109,1111,1113,1115,1118,1120,1122,1124,1126,1128,1130,1132,1134,1136,
 1138,1147,1155,1161,1164,1166,1168,1170,1172,1174,1176,1178,1180,1182,1184,1186,1189,1191,1193,1195,
 1197,1199,1201,1203,1205,1207,1209,1212,1214,1216,1218,1220,1222,1224,1226,1228,1230,1232,1234,1237,
 1239]

bot_black = [
 1360.34,1360.40,1360.38,1360.44,1360.41,1360.47,1360.44,1360.48,1360.45,1360.40,
 1360.43,1360.39,1360.42,1360.39,1360.44,1360.40,1360.42,1360.37,1360.41,1360.33,
 1360.44,1360.46,1360.37,1360.38,1360.37,1360.38,1360.39,1360.37,1360.40,1360.44,
 1360.42,1360.39,1360.40,1360.43,1360.40,1360.42,1360.41,1360.38,1360.41,1360.37,
 1360.33,1360.35,1360.32,1360.30,1360.35,1360.42,1360.48,1360.51,1360.46,1360.47,
 1360.40,1360.43,1360.41,1360.40,1360.38,1360.35,1360.40,1360.41,1360.50,1360.53,
 1360.54,1360.48,1360.42,1360.39,1360.44,1360.40,1360.41,1360.37,1360.44,1360.40,
 1360.35,1360.42,1360.44,1360.40,1360.37,1360.31,1360.37,1360.44,1360.42,1360.37,
 1360.39,1360.35,1360.39,1360.40,1360.35,1360.38,1360.40,1360.37,1360.31,1360.22,
 1360.33,1360.35,1360.38,1360.39,1360.37,1360.40,1360.42,1360.45,1360.47,1360.48,
 1360.44,1360.40,1360.42,1360.37,1360.38,1360.37,1360.35,1360.38,1360.37,1360.39,
 1360.41,1360.40,1360.38,1360.41,1360.37,1360.42,1360.41,1360.40,1360.38,1360.41,
 1360.43,1360.40,1360.42,1360.39,1360.41,1360.40,1360.38,1360.41,1360.41,1360.44,
 1360.42,1360.45,1360.41,1360.42,1360.40,1360.45,1360.42,1360.41,1360.43,1360.42,
 1360.41,1360.40,1360.42,1360.40,1360.39,1360.40,1360.41,1360.40,1360.40,1360.39,
 1360.41,1360.41,1360.44,1360.46,1360.43,1360.40,1360.38,1360.37,1360.39,1360.38,
 1360.39,1360.37,1360.40,1360.41,1360.41,1360.44,1360.47,1360.45,1360.40,1360.39,
 1360.37,1360.34,1360.31,1360.30,1360.29,1360.31,1360.34,1360.37,1360.39,1360.40,
 1360.39,1360.37,1360.40,1360.42,1360.39,1360.41,1360.44,1360.41,1360.43,1360.46,
 1360.41,1360.43,1360.40,1360.45,1360.42,1360.40,1360.43,
 1360.40,1360.41,1360.39,1360.42,1360.41,1360.42,1360.40,1360.38,1360.40,1360.39,
 1360.37,1360.35,1360.33,1360.32,1360.33,1360.34,1360.36,1360.38,1360.41,1360.42,
 1360.42,1360.43,1360.41,1360.44,1360.45,1360.42,1360.44,1360.40,1360.42,1360.41,
 1360.39,1360.41,1360.42,1360.40,1360.42,1360.44,1360.47,1360.52,1360.44,1360.42,
 1360.39,1360.40,1360.37,1360.39,1360.42,1360.39,1360.40,1360.40,1360.42,1360.40,
 1360.43,1360.39,1360.41,1360.40,1360.44,1360.42,1360.40,1360.44,1360.41,1360.42,
 1360.40,1360.41,1360.39,1360.40,1360.38,1360.37,1360.35,1360.38,1360.34,1360.37,
 1360.39,1360.35,1360.37,1360.34,1360.39,1360.35,1360.37,1360.33,1360.37,1360.39,
 1360.40,1360.41,1360.43,1360.41,1360.39,1360.38,1360.41,1360.44,1360.40,1360.42,
 1360.39,1360.37,1360.35,1360.33,1360.32,1360.34,1360.36,1360.38,1360.40,1360.42,
 1360.44,1360.45,1360.44,1360.41,1360.43,1360.40,1360.39,1360.42,1360.41,1360.40,
 1360.42,1360.40,1360.39,1360.37,1360.38,1360.35,1360.39,1360.40,1360.34,1360.37,
 1360.40,1360.42,1360.44,1360.44,1360.41,1360.42,1360.40,1360.39,1360.40,1360.41,
 1360.43,1360.44,1360.42,1360.42,1360.44,1360.42,1360.40,1360.40,1360.39,1360.38,
 1360.35,1360.37,1360.37,1360.37,1360.39,1360.36,1360.35,1360.31,1360.33,1360.35,
 1360.40,1360.42,1360.42,1360.43,1360.44,1360.42,1360.41,1360.40,1360.35,1360.38,
 1360.33,1360.35,1360.37,1360.40,1360.41,1360.40,1360.38,1360.37,1360.35,1360.38,
 1360.40,1360.42,1360.40,1360.37,1360.41,1360.43,1360.40,1360.41,1360.42,1360.39,
 1360.40,1360.42,1360.42,1360.40,1360.42,1360.43,1360.42,1360.39,1360.33,1360.37,
 1360.40,1360.42,1360.44,1360.46,1360.47,1360.43,1360.41,1360.40,
 1360.40,1360.38,1360.41,1360.37,1360.42,1360.44,1360.47,1360.42,1360.45,1360.43,
 1360.44,1360.42,1360.43,1360.41,1360.43,1360.40,1360.42,1360.44,1360.41,1360.43,
 1360.40,1360.42,1360.43,1360.45,1360.41,1360.42,1360.40,1360.39,1360.41,1360.39,
 1360.38,1360.37,1360.34,1360.37,1360.40,1360.42,1360.39,1360.40,1360.38,1360.39,
 1360.37,1360.33,1360.37,1360.40,1360.41,1360.44,1360.40,1360.42,1360.45,1360.46,
 1360.43,1360.41,1360.44,1360.39,1360.42,1360.37,1360.33,1360.34,1360.39,1360.42,
 1360.45,1360.44,1360.40,1360.38,1360.41,1360.37,1360.34,1360.40,1360.42,1360.43,
 1360.44,1360.43,1360.42,1360.44,1360.45,1360.42,1360.42,1360.38,1360.39,1360.37,
 1360.34,1360.38,1360.39,1360.41,1360.44,1360.42,1360.45,1360.41,1360.43,1360.39,
 1360.42,1360.40,1360.37,1360.40,1360.34,1360.39,1360.41,1360.42,1360.42,1360.42,
 1360.39,1360.41,1360.40,1360.38,1360.41,1360.42,1360.37,1360.35,1360.40,1360.37,
 1360.39,1360.42,1360.43,1360.45,1360.40,1360.37,1360.41,1360.40,1360.42,1360.41,
 1360.37,1360.40,1360.43,1360.39,1360.35,1360.33,1360.37,1360.39,1360.40,1360.42,
 1360.44,1360.40,1360.43,1360.38,1360.33,1360.38,1360.40,1360.41,1360.42,1360.40,
 1360.39,1360.42,1360.40,1360.39,1360.41,1360.43,1360.44,1360.43,1360.42,1360.41,
 1360.41,1360.39,1360.37,1360.35,1360.38,1360.42,1360.44,1360.46,1360.45,1360.47,
 1360.43,1360.44,1360.43,1360.42,1360.40,1360.39,1360.41,1360.38,1360.35,1360.39,
 1360.40,1360.42,1360.44,1360.43,1360.45,1360.46,1360.48,1360.44,1360.41,1360.41,
 1360.48,1360.47,1360.48,1360.48,1360.47,1360.44,1360.42,1360.41,1360.44,1360.41,
 1360.40]

top_yticks = [1357, 1358, 1359, 1360, 1361, 1362]
bot_yticks = [1360.2, 1360.4, 1360.6, 1360.8, 1361.0]
y_label = "Irrad., Wm\u22122"
x_label = "Date (mm/yy)"

# ---------------- styling ----------------
BLUE = "#0000ff"
GREEN = "#00a800"
FRAME = "#5a5a5a"


def to_num(start, days):
    return mdates.datestr2num(start) + np.asarray(days, dtype=float)


def style_axes(ax, start, span, ylim, yticks, minor_step, fmt):
    x0 = mdates.datestr2num(start)
    ax.set_xlim(x0, x0 + span)
    ax.set_ylim(*ylim)
    ax.xaxis.set_major_locator(mdates.MonthLocator(bymonth=[6, 12]))
    ax.xaxis.set_minor_locator(mdates.MonthLocator(bymonth=[3, 9]))
    ax.xaxis.set_major_formatter(mdates.DateFormatter("%m\\%y"))
    ax.yaxis.set_major_locator(FixedLocator(yticks))
    ax.yaxis.set_minor_locator(MultipleLocator(minor_step))
    ax.yaxis.set_major_formatter(FormatStrFormatter(fmt))
    ax.tick_params(axis="x", which="both", direction="in", top=True, bottom=True,
                   length=3, width=0.8, color=FRAME, labelsize=12, pad=9)
    ax.tick_params(axis="y", which="major", direction="in", left=True, right=True,
                   length=14, width=0.8, color=FRAME, labelsize=12, pad=4)
    ax.tick_params(axis="y", which="minor", direction="in", left=True, right=True,
                   length=7, width=0.8, color="#a0a0a0")
    for s in ax.spines.values():
        s.set_color(FRAME)
        s.set_linewidth(0.9)


fig = plt.figure(figsize=(11.02, 5.11), dpi=100)
W, H = 1102.0, 511.0
ax1 = fig.add_axes([86 / W, 1 - 210 / H, 989 / W, 153 / H])
ax2 = fig.add_axes([86 / W, 1 - 424 / H, 989 / W, 152.3 / H])

# top panel
ax1.plot(to_num(TOP_START, top_days), top_green, color=GREEN, lw=1.9, zorder=2)
ax1.plot(to_num(TOP_START, top_days), top_blue, color=BLUE, lw=1.9, zorder=3)
ax1.plot(to_num(TOP_START, top_black_days), top_black, color="black", lw=0.9, zorder=4)
style_axes(ax1, TOP_START, TOP_SPAN, (1357.0, 1362.5), top_yticks, 0.1, "%d")
ax1.set_ylabel(y_label, fontsize=12)
ax1.yaxis.set_label_coords(-0.061, 0.5)

# bottom panel
ax2.plot(to_num(BOT_START, bot_days), bot_green, color=GREEN, lw=1.9, zorder=2)
ax2.plot(to_num(BOT_START, bot_days), bot_blue, color=BLUE, lw=1.9, zorder=3)
ax2.plot(to_num(BOT_START, bot_black_days), bot_black, color="black", lw=0.9, zorder=4)
style_axes(ax2, BOT_START, BOT_SPAN, (1360.2, 1361.2), bot_yticks, 0.05, "%.1f")
ax2.set_ylabel(y_label, fontsize=12)
ax2.yaxis.set_label_coords(-0.0775, 0.53)
ax2.set_xlabel(x_label, fontsize=12, labelpad=2)

fig.savefig("out.png", dpi=100)
